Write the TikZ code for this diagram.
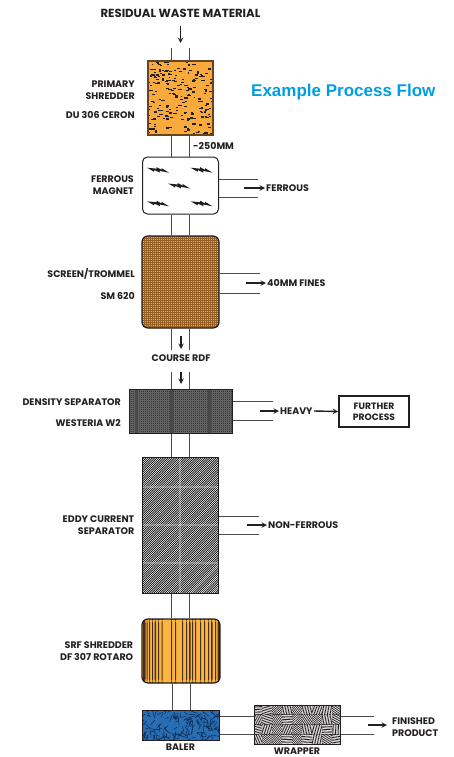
\documentclass[tikz,border=0pt]{standalone}
\usepackage{fontspec}
\setmainfont{Poppins}
\newfontfamily\headfont{Liberation Sans}
\usetikzlibrary{positioning, calc}

\definecolor{ink}{RGB}{35,31,32}
\definecolor{pipegray}{RGB}{75,75,75}
\definecolor{flowblue}{RGB}{0,158,224}
\definecolor{shredorange}{RGB}{248,170,60}
\definecolor{shredbrown}{RGB}{105,68,30}
\definecolor{screenorange}{RGB}{240,168,74}
\definecolor{screenbrown}{RGB}{150,95,35}
\definecolor{densgray}{RGB}{100,100,100}
\definecolor{densband}{RGB}{72,72,72}
\definecolor{srforange}{RGB}{252,180,64}
\definecolor{srfdark}{RGB}{70,48,25}
\definecolor{balerblue}{RGB}{40,110,180}
\definecolor{balerdark}{RGB}{15,40,75}

\tikzset{
  lbl/.style={font=\bfseries\fontsize{9.5}{12}\selectfont, text=ink, align=right, inner sep=1pt},
  outlbl/.style={lbl, align=left, anchor=west},
  toplbl/.style={font=\bfseries\fontsize{11.7}{14}\selectfont, text=ink, inner sep=1pt},
  pipe/.style={pipegray, line width=0.9pt},
  arr/.style={-stealth, line width=1.4pt, ink},
  bolt/.pic={\fill[ink] (-11,-2) -- (-4,2) -- (-3.5,0.4) -- (2,2.9) -- (1.6,1.2) -- (11,3)
                        -- (3.5,-1.6) -- (3.8,0.2) -- (-1.5,-2.6) -- (-1.2,-1) -- cycle;},
  unit/.style={inner sep=0pt, minimum width=#1},
}

\begin{document}
\begin{tikzpicture}[x=1pt, y=-1pt]
\useasboundingbox (0,0) rectangle (453,757);

% heading
\node[toplbl] (title) at (180.5,13) {RESIDUAL WASTE MATERIAL};
\node[anchor=west, inner sep=0pt, text=flowblue, font=\headfont\bfseries\fontsize{17}{20}\selectfont] (head) at (251,92) {Example Process Flow};

% primary shredder (texture drawn round the node centre)
\node[unit=65pt, minimum height=74pt, draw=shredbrown, line width=1.6pt, fill=shredorange,
  path picture={
    \pgfmathsetseed{11}
    \foreach \i in {1,...,240}
      \draw[line width=1.3pt, ink] ({rnd*70-36},{rnd*78-39}) -- ++({1.5+rnd*2.2},0);
  }] (prim) at (180.5,98) {};
\node[lbl, anchor=east] (primlbl) at (136,90) {PRIMARY\\SHREDDER};
\node[lbl, anchor=east] (primtype) at (136,115) {DU 306 CERON};
\coordinate (feed) at (180.5,48);
\draw[arr] ([yshift=-13pt]title.center) -- ([yshift=5pt]feed);
\draw[pipe] ([xshift=-9pt]feed) -- ([xshift=-9pt]prim.north);
\draw[pipe] ([xshift=9pt]feed) -- ([xshift=9pt]prim.north);
\node[lbl, anchor=west] (cut) at (192,146) {-250MM};

% ferrous magnet
\node[unit=76pt, minimum height=57pt, draw=ink, line width=1pt, fill=white, rounded corners=5pt] (mag) at (180.5,185.5) {};
\pic at ([shift={(-22.5,-15.8)}]mag.center) {bolt};
\pic at ([shift={(21,-15.8)}]mag.center) {bolt};
\pic at ([shift={(-1.5,0)}]mag.center) {bolt};
\pic at ([shift={(-22.5,17.8)}]mag.center) {bolt};
\pic at ([shift={(21,17.8)}]mag.center) {bolt};
\node[lbl, left=7pt of mag] (maglbl) {FERROUS\\MAGNET};
\draw[pipe] ([xshift=-9pt]prim.south) -- ([xshift=-9pt]mag.north);
\draw[pipe] ([xshift=9pt]prim.south) -- ([xshift=9pt]mag.north);
\node[outlbl] (ferr) at (265,188) {FERROUS};
\draw[pipe] ([yshift=9pt]mag.east |- ferr.west) -- ++(39,0);
\draw[pipe] ([yshift=-9pt]mag.east |- ferr.west) -- ++(39,0);
\draw[arr] ([xshift=-21pt]ferr.west) -- (ferr.west);

% screen / trommel
\node[unit=77pt, minimum height=92pt, draw=ink, line width=1.2pt, fill=screenorange, rounded corners=6pt,
  path picture={
    \foreach \k in {-48,-46,...,48} {
      \draw[screenbrown, line width=0.35pt] (\k,-48) -- (\k,48);
      \draw[screenbrown, line width=0.35pt] (-48,\k) -- (48,\k);
    }
  }] (scr) at (180.5,282) {};
\node[lbl, anchor=east] (scrlbl) at (136,274) {SCREEN/TROMMEL};
\node[lbl, anchor=east] (scrtype) at (136,296) {SM 620};
\draw[pipe] ([xshift=-9pt]mag.south) -- ([xshift=-9pt]scr.north);
\draw[pipe] ([xshift=9pt]mag.south) -- ([xshift=9pt]scr.north);
\node[outlbl] (fines) at (266,283) {40MM FINES};
\draw[pipe] ([yshift=10pt]scr.east |- fines.west) -- ++(40,0);
\draw[pipe] ([yshift=-10pt]scr.east |- fines.west) -- ++(40,0);
\draw[arr] ([xshift=-20pt]fines.west) -- (fines.west);

% course rdf
\node[lbl] (rdf) at (181,358) {COURSE RDF};
\draw[pipe] ([xshift=-9pt]scr.south) -- ([xshift=-9.5pt,yshift=8pt]rdf.center);
\draw[pipe] ([xshift=9pt]scr.south) -- ([xshift=8.5pt,yshift=8pt]rdf.center);
\draw[arr] ([yshift=22pt]rdf.center) -- ([yshift=9pt]rdf.center);

% density separator
\node[unit=103pt, minimum height=44pt, draw=ink, line width=1pt, fill=densgray,
  path picture={
    \foreach \a in {-52,-50,...,52}
      \foreach \b in {-24,-22,...,24}
        \fill[black!80] (\a,\b) rectangle ++(1,1);
    \foreach \x in {-44,-9,29}
      \fill[densband] (\x-1.5,-24) rectangle ++(3,48);
  }] (dens) at (180.5,411) {};
\node[lbl, anchor=east] (denslbl) at (122,402) {DENSITY SEPARATOR};
\node[lbl, anchor=east] (denstype) at (122,423) {WESTERIA W2};
\draw[pipe] ([xshift=-9.5pt,yshift=-14pt]rdf.center) -- ([xshift=-9pt]dens.north);
\draw[pipe] ([xshift=8.5pt,yshift=-14pt]rdf.center) -- ([xshift=9pt]dens.north);
\draw[arr] ([yshift=-14pt]rdf.center) -- ([yshift=-26pt]rdf.center);
\node[outlbl] (heavy) at (279,411) {HEAVY};
\draw[pipe] ([yshift=9.5pt]dens.east |- heavy.west) -- ++(40,0);
\draw[pipe] ([yshift=-9.5pt]dens.east |- heavy.west) -- ++(40,0);
\draw[arr] ([xshift=-19pt]heavy.west) -- (heavy.west);
\node[lbl, align=center, draw=ink, line width=1.8pt, minimum width=70pt, minimum height=31pt, font=\bfseries\fontsize{9.2}{11}\selectfont] (further) at (374,411.5) {FURTHER\\PROCESS};
\draw[arr] (heavy.east) -- (further.west);

% eddy current separator
\node[unit=76pt, minimum height=136pt, draw=ink, line width=1pt, fill=white,
  path picture={
    \foreach \k in {-180,-177.8,...,40}
      \draw[line width=0.65pt, black] (\k,70) -- ++(140,-140);
    \draw[white, opacity=0.25, line width=2.5pt] (0,-70) -- (0,70);
    \foreach \y in {-38,0,38}
      \draw[white, opacity=0.25, line width=2.5pt] (-40,\y) -- (40,\y);
  }] (eddy) at (180,525) {};
\node[lbl, left=6pt of eddy] (eddylbl) {EDDY CURRENT\\SEPARATOR};
\draw[pipe] ([xshift=-9pt]dens.south) -- ([xshift=-9pt]dens.south |- eddy.north);
\draw[pipe] ([xshift=9pt]dens.south) -- ([xshift=9pt]dens.south |- eddy.north);
\node[outlbl] (nonferr) at (267,525) {NON-FERROUS};
\draw[pipe] ([yshift=9pt]eddy.east |- nonferr.west) -- ++(40,0);
\draw[pipe] ([yshift=-9pt]eddy.east |- nonferr.west) -- ++(40,0);
\draw[arr] ([xshift=-20pt]nonferr.west) -- (nonferr.west);

% srf shredder
\node[unit=78pt, minimum height=64pt, draw=ink, line width=1.2pt, fill=srforange, rounded corners=6pt,
  path picture={
    \foreach \x/\w in {1/2.5, 4.5/1, 7/1.2, 10/1, 12.5/1.5, 16/1, 19.5/1.2, 29/1.2, 33/1, 40/1.2,
                       44/1, 47/1.5, 50/1, 53/1.2, 58/1, 62/1.2, 66/1, 69/1.5, 73/1, 75.5/2.5}
      \fill[srfdark] (\x-39,-34) rectangle ++(\w,68);
  }] (srf) at (181,651) {};
\node[lbl, left=7pt of srf] (srflbl) {SRF SHREDDER\\DF 307 ROTARO};
\draw[pipe] ([xshift=-9pt]eddy.south) -- ([xshift=-9pt]eddy.south |- srf.north);
\draw[pipe] ([xshift=9pt]eddy.south) -- ([xshift=9pt]eddy.south |- srf.north);

% baler and wrapper
\node[unit=77pt, minimum height=30pt, draw=ink, line width=1pt, fill=balerblue,
  path picture={
    \pgfmathsetseed{5}
    \foreach \i in {1,...,190}
      \draw[balerdark, line width=0.5pt] ({rnd*82-41},{rnd*34-17}) -- ++({rnd*360}:{3+rnd*5});
  }] (baler) at (180.5,725) {};
\node[lbl, below=2pt of baler] (balerlbl) {BALER};
\draw[pipe] ([xshift=-9pt]srf.south) -- ([xshift=-9pt]srf.south |- baler.north);
\draw[pipe] ([xshift=9pt]srf.south) -- ([xshift=9pt]srf.south |- baler.north);
\node[unit=86pt, minimum height=39pt, draw=ink, line width=1pt, fill=white,
  path picture={
    \pgfmathsetseed{23}
    \foreach \px in {0,...,8}
      \foreach \py in {0,...,3} {
        \begin{scope}
          \clip ({\px*10-45},{\py*10-20}) rectangle ++(10,10);
          \pgfmathsetmacro\ang{rnd*180}
          \foreach \k in {-8,-6.4,...,8}
            \draw[line width=0.7pt] ({\px*10-40},{\py*10-15}) ++(\ang+90:\k) ++(\ang:-10) -- ++(\ang:20);
        \end{scope}
      }
  }] (wrap) at (297,724.5) {};
\node[lbl, below=2pt of wrap] (wraplbl) {WRAPPER};
\draw[pipe] ([yshift=9pt]baler.east) -- ([yshift=9pt]baler.east -| wrap.west);
\draw[pipe] ([yshift=-9pt]baler.east) -- ([yshift=-9pt]baler.east -| wrap.west);
\node[outlbl] (done) at (391,727.5) {FINISHED\\PRODUCT};
\draw[pipe] ([yshift=9pt]wrap.east |- baler.east) -- ++(33,0);
\draw[pipe] ([yshift=-9pt]wrap.east |- baler.east) -- ++(33,0);
\draw[arr] ([xshift=-23pt]done.west |- baler.east) -- ([xshift=-4pt]done.west |- baler.east);
\end{tikzpicture}
\end{document}
